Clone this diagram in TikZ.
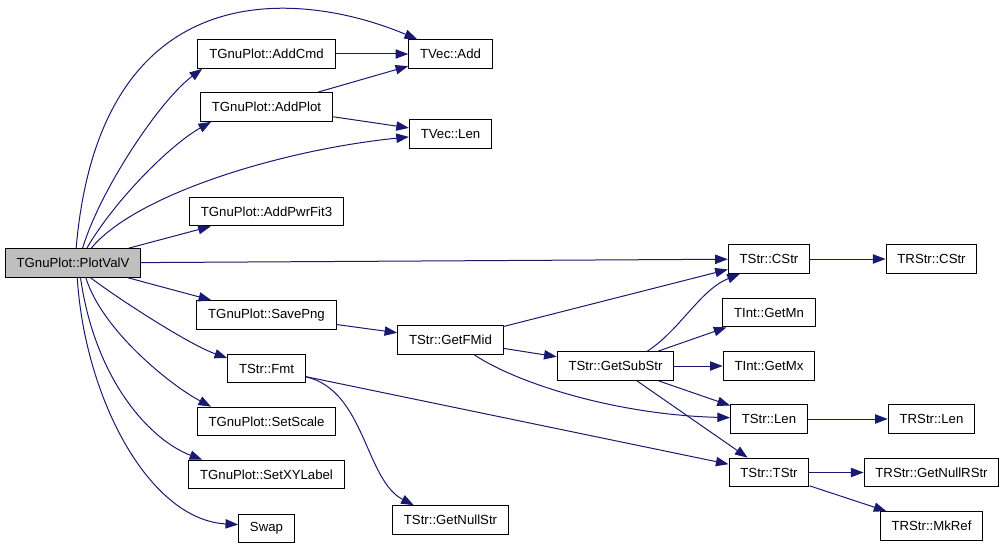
\documentclass[tikz,border=0pt]{standalone}
\usepackage{fontspec}
\setmainfont{Liberation Sans}
\usetikzlibrary{arrows.meta}
\definecolor{bleuarc}{HTML}{191970}
\definecolor{grisracine}{HTML}{BFBFBF}

\begin{document}
\begin{tikzpicture}[x=0.75pt,y=-0.75pt]
% Styles
\tikzstyle{fleche}=[-{Triangle[length=9.5pt,width=7pt]},draw=bleuarc,line width=0.75pt]
\tikzstyle{fonction}=[draw=black,line width=0.75pt,fill=white,minimum height=21.5pt,inner xsep=8.5pt,inner ysep=0pt,font=\fontsize{9.9}{11}\selectfont]
\tikzstyle{racine}=[fonction,fill=grisracine]
% Colonnes
\def\ColA{73}
\def\ColB{266.5}
\def\ColC{450.5}
\def\ColD{615.5}
\def\ColE{769}
\def\ColF{931.5}
\useasboundingbox (0,0) rectangle (1005,549);
% Fonctions
\node[racine] (PlotValV) at (\ColA,263) {TGnuPlot::PlotValV};
\node[fonction] (AddCmd) at (\ColB,54) {TGnuPlot::AddCmd};
\node[fonction] (AddPlot) at (\ColB,107) {TGnuPlot::AddPlot};
\node[fonction] (AddPwrFit) at (\ColB,211.5) {TGnuPlot::AddPwrFit3};
\node[fonction] (SavePng) at (\ColB,315) {TGnuPlot::SavePng};
\node[fonction] (Fmt) at (\ColB,368.5) {TStr::Fmt};
\node[fonction] (SetScale) at (\ColB,421.5) {TGnuPlot::SetScale};
\node[fonction] (SetXYLabel) at (\ColB,474.5) {TGnuPlot::SetXYLabel};
\node[fonction] (Swap) at (\ColB,528.5) {Swap};
\node[fonction] (VAdd) at (\ColC,54) {TVec::Add};
\node[fonction] (VLen) at (\ColC,134) {TVec::Len};
\node[fonction] (GetFMid) at (\ColC,340) {TStr::GetFMid};
\node[fonction] (GetNullStr) at (\ColC,520) {TStr::GetNullStr};
\node[fonction] (GetSubStr) at (\ColD,366) {TStr::GetSubStr};
\node[fonction] (CStr) at (\ColE,259) {TStr::CStr};
\node[fonction] (GetMn) at (\ColE,312.5) {TInt::GetMn};
\node[fonction] (GetMx) at (\ColE,366) {TInt::GetMx};
\node[fonction] (Len) at (\ColE,419) {TStr::Len};
\node[fonction] (TStr) at (\ColE,472.5) {TStr::TStr};
\node[fonction] (RCStr) at (\ColF,259) {TRStr::CStr};
\node[fonction] (RLen) at (\ColF,419) {TRStr::Len};
\node[fonction] (GetNullRStr) at (\ColF,472.5) {TRStr::GetNullRStr};
\node[fonction] (MkRef) at (\ColF,526) {TRStr::MkRef};
% Appels
\draw[fleche] (PlotValV.78) .. controls (100,-30) and (300,-10) .. (VAdd.156);
\draw[fleche] (PlotValV.57) .. controls (100,190) and (160,100) .. (AddCmd.193);
\draw[fleche] (PlotValV.47) .. controls (115,200) and (170,145) .. (AddPlot.195);
\draw[fleche] (PlotValV.39) .. controls (135,195) and (280,150) .. (VLen.184);
\draw[fleche] (PlotValV) -- (AddPwrFit);
\draw[fleche] (PlotValV) -- (CStr);
\draw[fleche] (PlotValV) -- (SavePng);
\draw[fleche] (PlotValV.-40) .. controls (120,300) and (190,345) .. (Fmt.165);
\draw[fleche] (PlotValV.-49) .. controls (102,330) and (170,385) .. (SetScale.165);
\draw[fleche] (PlotValV.-63) .. controls (95,380) and (150,440) .. (SetXYLabel.167);
\draw[fleche] (PlotValV.-74) .. controls (85,400) and (150,520) .. (Swap.172);
\draw[fleche] (AddCmd) -- (VAdd);
\draw[fleche] (AddPlot) -- (VAdd);
\draw[fleche] (AddPlot) -- (VLen);
\draw[fleche] (SavePng) -- (GetFMid);
\draw[fleche] (Fmt.-12) .. controls (365,390) and (365,480) .. (GetNullStr.158);
\draw[fleche] (Fmt) -- (TStr);
\draw[fleche] (GetFMid) -- (CStr);
\draw[fleche] (GetFMid) -- (GetSubStr);
\draw[fleche] (GetFMid.-32) .. controls (520,385) and (620,415) .. (Len.178);
\draw[fleche] (CStr) -- (RCStr);
\draw[fleche] (GetSubStr.25) .. controls (680,330) and (700,290) .. (CStr.207);
\draw[fleche] (GetSubStr) -- (GetMn);
\draw[fleche] (GetSubStr) -- (GetMx);
\draw[fleche] (GetSubStr) -- (Len);
\draw[fleche] (GetSubStr) -- (TStr);
\draw[fleche] (Len) -- (RLen);
\draw[fleche] (TStr) -- (GetNullRStr);
\draw[fleche] (TStr) -- (MkRef);
\end{tikzpicture}
\end{document}
